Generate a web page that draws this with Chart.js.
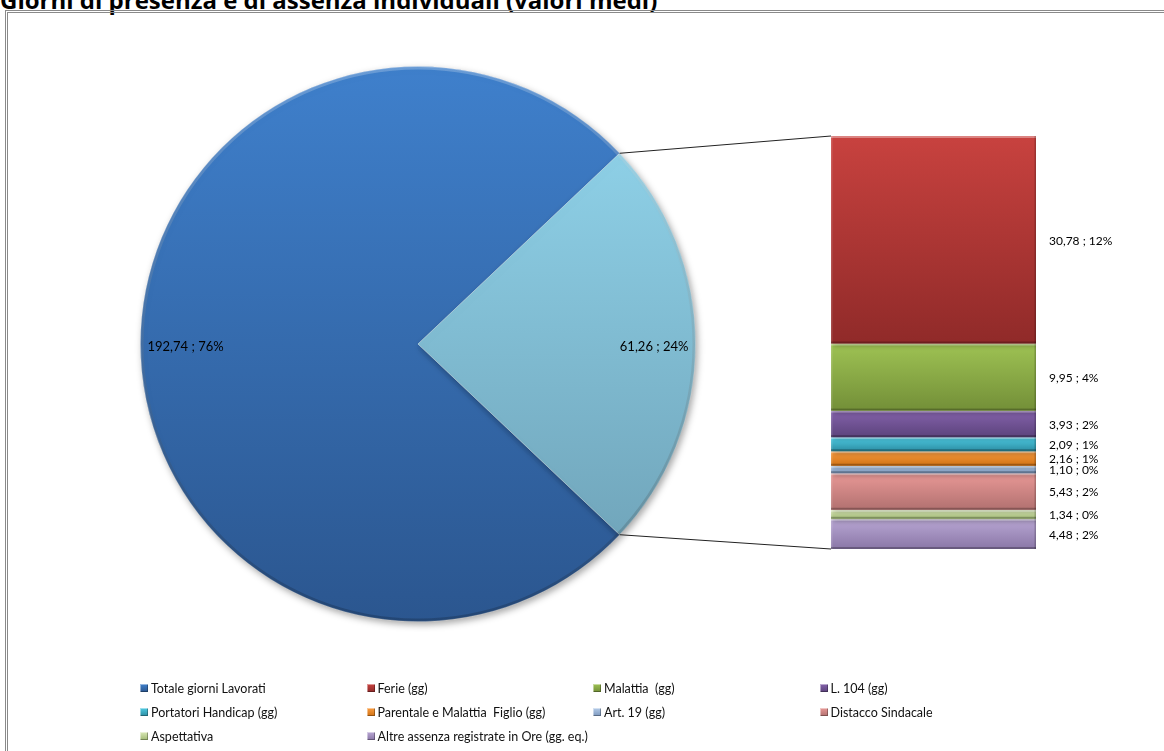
<!DOCTYPE html>
<html lang="it">
<head>
<meta charset="utf-8">
<title>Giorni di presenza e di assenza individuali (valori medi)</title>
<script src="https://cdn.jsdelivr.net/npm/chart.js@4/dist/chart.umd.min.js"></script>
<style>
  html, body { margin: 0; padding: 0; background: #fff; overflow: hidden; }
  body { width: 1164px; height: 751px; position: relative; font-family: Lato, 'Open Sans', sans-serif; }
  #title { position: absolute; left: 0; top: -12px; font: bold 24px 'Open Sans', sans-serif; line-height: 24px; color: #000; white-space: nowrap; }
  #frame { position: absolute; left: 5px; top: 10px; width: 1180px; height: 770px; border: 3px double #8a8a8a; box-sizing: border-box; }
  #pie { position: absolute; left: 130px; top: 56px; }
  #bar { position: absolute; left: 831px; top: 126px; }
  #links { position: absolute; left: 0; top: 0; pointer-events: none; }
  #legend { position: absolute; left: 140px; top: 680px; display: grid; grid-template-columns: repeat(4, 226.5px); grid-auto-rows: 24px; }
  #legend .item { display: flex; align-items: center; height: 16px; font-size: 12.5px; color: #111; white-space: pre; }
  #legend .box { width: 8px; height: 8px; margin-right: 3px; box-shadow: inset 1px 1px 0 rgba(255,255,255,0.45), inset -1px -1px 0 rgba(0,0,0,0.3); }
</style>
</head>
<body>
<div id="title">Giorni di presenza e di assenza individuali (valori medi)</div>
<div id="frame"></div>
<canvas id="pie" width="576" height="576"></canvas>
<canvas id="bar" width="333" height="433"></canvas>
<canvas id="links" width="1164" height="751"></canvas>
<div id="legend"></div>

<script>
// Pie: worked days vs. all absences
const pieLabels = ['Totale giorni Lavorati', 'Assenze'];
const pieValues = [192.74, 61.26];
const piePercents = [76, 24];

// Breakdown of the absences slice (stacked bar, top to bottom)
const absenceLabels = [
  'Ferie (gg)',
  'Malattia  (gg)',
  'L. 104 (gg)',
  'Portatori Handicap (gg)',
  'Parentale e Malattia  Figlio (gg)',
  'Art. 19 (gg)',
  'Distacco Sindacale',
  'Aspettativa',
  'Altre assenza registrate in Ore (gg. eq.)'
];
const absenceValues = [30.78, 9.95, 3.93, 2.09, 2.16, 1.10, 5.43, 1.34, 4.48];
const absencePercents = [12, 4, 2, 1, 1, 0, 2, 0, 2];

// [top, bottom] gradient colours
const pieColors = [['#3f80cc', '#2b568f'], ['#94d9f0', '#6b9db2']];
const absenceColors = [
  ['#c8423f', '#902a29'],
  ['#9ec253', '#738f38'],
  ['#8462ab', '#5c437c'],
  ['#4ecbe3', '#2c8da2'],
  ['#fa9c40', '#d07214'],
  ['#b4cce9', '#7c97bd'],
  ['#e89896', '#b27170'],
  ['#dbe9b8', '#a1b974'],
  ['#b9a7d4', '#8a77a7']
];

const barLabelFont = '12px Lato, sans-serif';
const pieLabelFont = '13px Lato, sans-serif';

function fmt(v) {
  return v.toFixed(2).replace('.', ',');
}

function vGradient(ctx, top, bottom, c0, c1) {
  if (!isFinite(top) || !isFinite(bottom) || top === bottom) return c0;
  const g = ctx.createLinearGradient(0, top, 0, bottom);
  g.addColorStop(0, c0);
  g.addColorStop(1, c1);
  return g;
}

// start the first slice so the absences slice is centred at 3 o'clock
const pieTotal = pieValues.reduce((a, b) => a + b, 0);
const absAngle = pieValues[1] / pieTotal * 360;

const piePlugin = {
  id: 'pieDecor',
  beforeDatasetsDraw(chart) {
    const ctx = chart.ctx;
    ctx.save();
    ctx.shadowColor = 'rgba(0,0,0,0.35)';
    ctx.shadowBlur = 7;
    ctx.shadowOffsetX = 2;
    ctx.shadowOffsetY = 3;
  },
  afterDatasetsDraw(chart) {
    const ctx = chart.ctx;
    ctx.restore();
    const arcs = chart.getDatasetMeta(0).data;

    // soft bevel along the rim
    const a0 = arcs[0];
    ctx.save();
    ctx.beginPath();
    ctx.arc(a0.x, a0.y, a0.outerRadius - 1.5, 0, Math.PI * 2);
    ctx.lineWidth = 3;
    ctx.strokeStyle = vGradient(ctx, a0.y - a0.outerRadius, a0.y + a0.outerRadius,
      'rgba(255,255,255,0.22)', 'rgba(0,0,0,0.18)');
    ctx.stroke();
    ctx.restore();

    ctx.save();
    ctx.font = pieLabelFont;
    ctx.fillStyle = '#000';
    ctx.textBaseline = 'middle';
    arcs.forEach((arc, i) => {
      const mid = (arc.startAngle + arc.endAngle) / 2;
      const r = arc.outerRadius - 7;
      const x = arc.x + r * Math.cos(mid);
      const y = arc.y + r * Math.sin(mid) + 3;
      ctx.textAlign = Math.cos(mid) >= 0 ? 'right' : 'left';
      ctx.fillText(fmt(pieValues[i]) + ' ; ' + piePercents[i] + '%', x, y);
    });
    ctx.restore();
  }
};

const pieChart = new Chart(document.getElementById('pie'), {
  type: 'pie',
  data: {
    labels: pieLabels,
    datasets: [{
      data: pieValues,
      backgroundColor: (c) => {
        const a = c.chart.chartArea;
        const col = pieColors[c.dataIndex];
        if (!a) return col[0];
        return vGradient(c.chart.ctx, a.top, a.bottom, col[0], col[1]);
      },
      borderColor: 'rgba(255,255,255,0.25)',
      borderWidth: 1,
      hoverOffset: 0,
      offset: 0
    }]
  },
  options: {
    responsive: false,
    animation: false,
    events: [],
    rotation: 90 + absAngle / 2,
    layout: { padding: 10 },
    plugins: { legend: { display: false }, tooltip: { enabled: false } }
  },
  plugins: [piePlugin]
});

// cumulative start of each segment in the stack
const absenceTotal = absenceValues.reduce((a, b) => a + b, 0);
const absenceStarts = absenceValues.map((v, i) => absenceValues.slice(0, i).reduce((a, b) => a + b, 0));

const barPlugin = {
  id: 'barDecor',
  beforeDatasetsDraw(chart) {
    const ctx = chart.ctx;
    ctx.save();
    ctx.shadowColor = 'rgba(0,0,0,0.3)';
    ctx.shadowBlur = 5;
    ctx.shadowOffsetX = 2;
    ctx.shadowOffsetY = 2;
  },
  afterDatasetsDraw(chart) {
    const ctx = chart.ctx;
    ctx.restore();
    ctx.save();
    chart.data.datasets.forEach((ds, i) => {
      const el = chart.getDatasetMeta(i).data[0];
      const left = el.x - el.width / 2;
      const w = el.width;
      const top = Math.min(el.y, el.base);
      const h = Math.abs(el.base - el.y);
      // bevel: light top/left, dark bottom/right
      ctx.fillStyle = 'rgba(255,255,255,0.35)';
      ctx.fillRect(left, top, w, Math.min(2, h / 2));
      ctx.fillStyle = 'rgba(255,255,255,0.15)';
      ctx.fillRect(left, top, 1.5, h);
      ctx.fillStyle = 'rgba(0,0,0,0.25)';
      ctx.fillRect(left, top + h - Math.min(2, h / 2), w, Math.min(2, h / 2));
      ctx.fillStyle = 'rgba(0,0,0,0.2)';
      ctx.fillRect(left + w - 1.5, top, 1.5, h);
    });

    ctx.font = barLabelFont;
    ctx.fillStyle = '#000';
    ctx.textAlign = 'left';
    ctx.textBaseline = 'middle';
    const x = chart.chartArea.right + 13;
    chart.data.datasets.forEach((ds, i) => {
      const el = chart.getDatasetMeta(i).data[0];
      const y = (el.y + el.base) / 2 + 1;
      ctx.fillText(fmt(absenceValues[i]) + ' ; ' + absencePercents[i] + '%', x, y);
    });
    ctx.restore();
  }
};

const barChart = new Chart(document.getElementById('bar'), {
  type: 'bar',
  data: {
    labels: ['Assenze'],
    datasets: absenceLabels.map((label, i) => ({
      label: label,
      data: [absenceValues[i]],
      backgroundColor: (c) => {
        const y = c.chart.scales && c.chart.scales.y;
        const col = absenceColors[i];
        if (!y) return col[0];
        const t = y.getPixelForValue(absenceStarts[i]);
        const b = y.getPixelForValue(absenceStarts[i] + absenceValues[i]);
        return vGradient(c.chart.ctx, t, b, col[0], col[1]);
      },
      borderWidth: 0,
      barPercentage: 1,
      categoryPercentage: 1
    }))
  },
  options: {
    responsive: false,
    animation: false,
    events: [],
    layout: { padding: { top: 10, bottom: 10, left: 0, right: 128 } },
    scales: {
      x: { stacked: true, display: false },
      y: { stacked: true, display: false, reverse: true, min: 0, max: absenceTotal }
    },
    plugins: { legend: { display: false }, tooltip: { enabled: false } }
  },
  plugins: [barPlugin]
});

// connector lines from the absences slice to the ends of the stacked bar
function drawLinks() {
  const canvas = document.getElementById('links');
  const ctx = canvas.getContext('2d');
  const pieBox = pieChart.canvas.getBoundingClientRect();
  const barBox = barChart.canvas.getBoundingClientRect();
  const arc = pieChart.getDatasetMeta(0).data[1];
  const first = barChart.getDatasetMeta(0).data[0];
  const last = barChart.getDatasetMeta(absenceValues.length - 1).data[0];
  const barLeft = barBox.left + first.x - first.width / 2;

  const p1 = [pieBox.left + arc.x + arc.outerRadius * Math.cos(arc.startAngle),
              pieBox.top + arc.y + arc.outerRadius * Math.sin(arc.startAngle)];
  const p2 = [pieBox.left + arc.x + arc.outerRadius * Math.cos(arc.endAngle),
              pieBox.top + arc.y + arc.outerRadius * Math.sin(arc.endAngle)];
  const b1 = [barLeft, barBox.top + Math.min(first.y, first.base)];
  const b2 = [barLeft, barBox.top + Math.max(last.y, last.base)];

  ctx.strokeStyle = '#222';
  ctx.lineWidth = 1;
  ctx.beginPath();
  ctx.moveTo(p1[0], p1[1]);
  ctx.lineTo(b1[0], b1[1]);
  ctx.moveTo(p2[0], p2[1]);
  ctx.lineTo(b2[0], b2[1]);
  ctx.stroke();
}
drawLinks();

// legend: worked days first, then each absence type
const legend = document.getElementById('legend');
const legendEntries = [[pieLabels[0], pieColors[0]]].concat(absenceLabels.map((l, i) => [l, absenceColors[i]]));
legendEntries.forEach(([label, col]) => {
  const item = document.createElement('div');
  item.className = 'item';
  const box = document.createElement('span');
  box.className = 'box';
  box.style.background = 'linear-gradient(' + col[0] + ', ' + col[1] + ')';
  item.appendChild(box);
  item.appendChild(document.createTextNode(label));
  legend.appendChild(item);
});
</script>
</body>
</html>
